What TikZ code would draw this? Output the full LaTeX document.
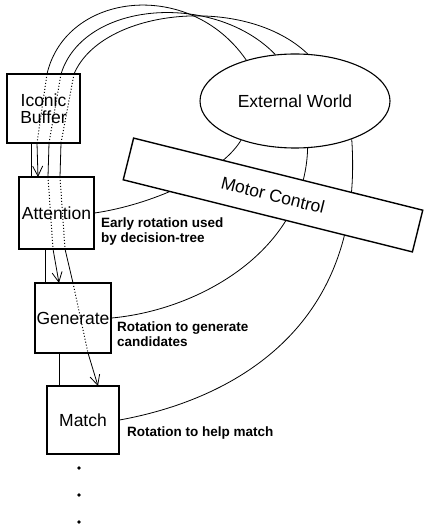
\documentclass[tikz,border=0pt]{standalone}
\usepackage{fontspec}
\setmainfont{Liberation Sans}
\usetikzlibrary{shapes.geometric,arrows.meta}

\begin{document}
\begin{tikzpicture}[x=1pt,y=-1pt,
          block/.style={draw,rectangle,line width=1.1pt,inner sep=0pt,align=center,font=\fontsize{17.5}{17}\selectfont},
          note/.style={anchor=north west,inner sep=0pt,align=left,font=\bfseries\fontsize{13.5}{15}\selectfont},
          wire/.style={line width=0.8pt},
          trail/.style={line width=1pt,dotted},
          tip/.style={-{Straight Barb[length=10pt,width=10pt]}}]

                \useasboundingbox (0,0) rectangle (424,526);

                \node[block,minimum width=73pt,minimum height=69pt] (ib) at (43.5,108.5) {Iconic\\Buffer};
                \node[block,minimum width=75pt,minimum height=72pt] (att) at (56.5,213) {Attention};
                \node[block,minimum width=76pt,minimum height=70pt] (gen) at (73,318) {Generate};
                \node[block,minimum width=72pt,minimum height=68pt] (mat) at (83,420) {Match};
                \node[draw,ellipse,line width=1.1pt,inner sep=0pt,minimum width=190pt,minimum height=94pt,
                      font=\fontsize{17.5}{17}\selectfont] (ew) at (295,101) {External World};

                \node[note] (n1) at (101,218) {Early rotation used\\by decision-tree};
                \node[note] (n2) at (117,322) {Rotation to generate\\candidates};
                \node[note] (n3) at (127,427) {Rotation to help match};

                % paths through the buffer
                \coordinate (a0) at (47,74);  \coordinate (a1) at (37,143); \coordinate (a2) at (38,177);
                \coordinate (b0) at (61,74);  \coordinate (b1) at (49,143); \coordinate (b2) at (48,177);
                \coordinate (b3) at (53,249); \coordinate (b4) at (59,283);
                \coordinate (c0) at (74,74);  \coordinate (c1) at (61,143); \coordinate (c2) at (60,177);
                \coordinate (c3) at (65,249); \coordinate (c4) at (73,283); \coordinate (c5) at (88,353);
                \coordinate (c6) at (98,386);
                \coordinate (k1) at (31,0); \coordinate (k2) at (45,0); \coordinate (k3) at (59,0);

                \draw[wire] (a0) .. controls (66,-8) and (190,-22) .. (ew.140);
                \draw[wire] (b0) .. controls (84,0) and (215,-8) .. (ew.113);
                \draw[wire] (c0) .. controls (102,8) and (245,-6) .. (ew.75);

                \draw[trail] (a0) -- (a1);
                \draw[trail] (b0) -- (b1) (b2) -- (b3);
                \draw[trail] (c0) -- (c1) (c2) -- (c3) (c4) -- (c5);
                \draw[wire,tip] (a1) -- (a2);
                \draw[wire] (b1) -- (b2);
                \draw[wire,tip] (b3) -- (b4);
                \draw[wire] (c1) -- (c2) (c3) -- (c4);
                \draw[wire,tip] (c5) -- (c6);

                \draw[wire] (ib.south -| k1) -- (att.north -| k1);
                \draw[wire] (att.south -| k2) -- (gen.north -| k2);
                \draw[wire] (gen.south -| k3) -- (mat.north -| k3);

                \draw[wire] (att.east) .. controls (150,205) and (220,175) .. (ew.216);
                \draw[wire] (gen.east) .. controls (200,310) and (305,250) .. (ew.285);
                \draw[wire] (mat.east) .. controls (230,400) and (365,330) .. (ew.326);

                \node[draw,fill=white,line width=1.4pt,inner sep=0pt,minimum width=298pt,minimum height=43pt,
                      rotate=-14,font=\fontsize{17.5}{17}\selectfont] (mc) at (273,195) {Motor Control};

                \foreach \y in {468,495,522}
                  \fill (79,\y) circle (1.9);
              \end{tikzpicture}
\end{document}
